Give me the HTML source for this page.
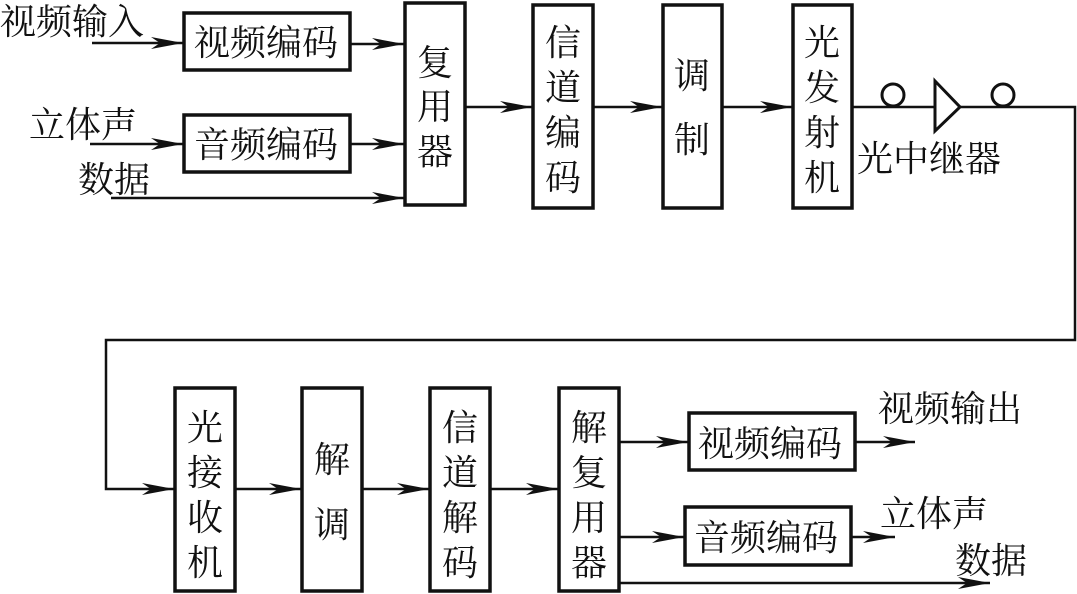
<!DOCTYPE html>
<html><head><meta charset="utf-8"><style>
html,body{margin:0;padding:0;background:#fff;}
svg{display:block;}
text{font-family:"Liberation Serif","Noto Serif CJK SC","Noto Sans CJK SC",serif;font-size:36px;fill:#111;}
</style></head><body>
<svg width="1077" height="594" viewBox="0 0 1077 594" xmlns="http://www.w3.org/2000/svg">
<defs>
<marker id="a" markerWidth="34" markerHeight="14" refX="32" refY="7" orient="auto" markerUnits="userSpaceOnUse">
<path d="M0,1 L32,7 L0,13 L9,7 Z" fill="#111"/>
</marker>
</defs>
<g fill="none" stroke="#111" stroke-width="3.5">
<rect x="184" y="13" width="166" height="57"/>
<rect x="184" y="115" width="166" height="57"/>
<rect x="405" y="3" width="60" height="202"/>
<rect x="533" y="5" width="60" height="203"/>
<rect x="663" y="5" width="59" height="203"/>
<rect x="793" y="5" width="59" height="203"/>
<rect x="175" y="388" width="60" height="203"/>
<rect x="302" y="388" width="60" height="203"/>
<rect x="430" y="388" width="60" height="203"/>
<rect x="559" y="388" width="60" height="203"/>
<rect x="689" y="413" width="166" height="57"/>
<rect x="685" y="507" width="166" height="58"/>
</g>
<g fill="none" stroke="#111" stroke-width="2.5">
<line x1="92" y1="43" x2="183" y2="43" marker-end="url(#a)"/>
<line x1="90" y1="144" x2="183" y2="144" marker-end="url(#a)"/>
<line x1="111" y1="198" x2="404" y2="198" marker-end="url(#a)"/>
<line x1="351" y1="44" x2="404" y2="44" marker-end="url(#a)"/>
<line x1="351" y1="144" x2="404" y2="144" marker-end="url(#a)"/>
<line x1="466" y1="107" x2="532" y2="107" marker-end="url(#a)"/>
<line x1="594" y1="107" x2="662" y2="107" marker-end="url(#a)"/>
<line x1="723" y1="107" x2="792" y2="107" marker-end="url(#a)"/>
<polyline points="853,107 1075,107 1075,340 106,340 106,489 174,489" marker-end="url(#a)"/>
<line x1="236" y1="489" x2="301" y2="489" marker-end="url(#a)"/>
<line x1="363" y1="489" x2="429" y2="489" marker-end="url(#a)"/>
<line x1="491" y1="489" x2="558" y2="489" marker-end="url(#a)"/>
<line x1="620" y1="442" x2="688" y2="442" marker-end="url(#a)"/>
<line x1="620" y1="537" x2="684" y2="537" marker-end="url(#a)"/>
<line x1="856" y1="442" x2="915" y2="442" marker-end="url(#a)"/>
<line x1="852" y1="537" x2="895" y2="537" marker-end="url(#a)"/>
<line x1="620" y1="583" x2="990" y2="583" marker-end="url(#a)"/>
</g>
<g fill="#fff" stroke="#111" stroke-width="3">
<circle cx="893" cy="95" r="11"/>
<circle cx="1003" cy="95" r="11"/>
<path d="M935,81 L960,107 L935,131 Z"/>
</g>
<text x="0" y="34">视频输入</text>
<text x="29" y="137">立体声</text>
<text x="78" y="192">数据</text>
<text x="194" y="55">视频编码</text>
<text x="194" y="157">音频编码</text>
<g text-anchor="middle">
<text x="435" y="75">复</text><text x="435" y="119">用</text><text x="435" y="164">器</text>
<text x="563" y="55">信</text><text x="563" y="100">道</text><text x="563" y="145">编</text><text x="563" y="190">码</text>
<text x="692" y="88">调</text><text x="692" y="152">制</text>
<text x="822" y="55">光</text><text x="822" y="100">发</text><text x="822" y="145">射</text><text x="822" y="190">机</text>
<text x="205" y="440">光</text><text x="205" y="485">接</text><text x="205" y="530">收</text><text x="205" y="575">机</text>
<text x="332" y="472">解</text><text x="332" y="537">调</text>
<text x="460" y="440">信</text><text x="460" y="485">道</text><text x="460" y="530">解</text><text x="460" y="575">码</text>
<text x="589" y="440">解</text><text x="589" y="485">复</text><text x="589" y="530">用</text><text x="589" y="575">器</text>
</g>
<text x="857" y="171">光中继器</text>
<text x="698" y="456">视频编码</text>
<text x="694" y="550">音频编码</text>
<text x="878" y="421">视频输出</text>
<text x="880" y="526">立体声</text>
<text x="955" y="573">数据</text>
</svg>
</body></html>
